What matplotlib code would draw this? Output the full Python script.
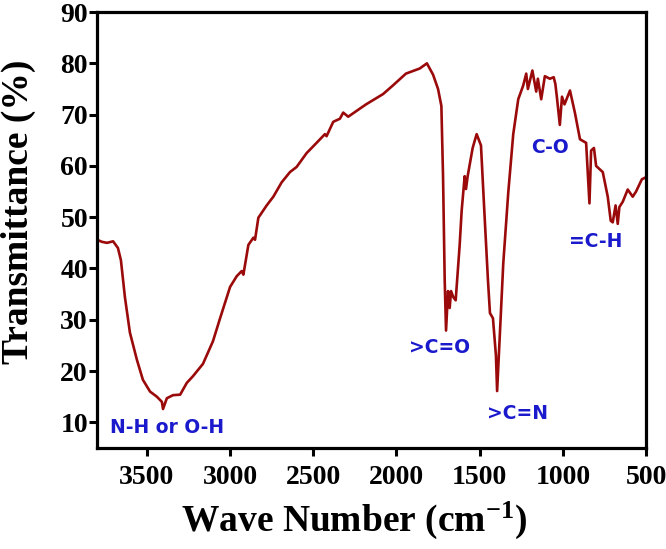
import numpy as np
import matplotlib
matplotlib.use("Agg")
import matplotlib.pyplot as plt

# FTIR spectrum (wave number cm^-1, transmittance %)
wavenumber = [3800, 3770, 3740, 3703, 3674, 3656, 3632, 3602, 3560, 3524, 3481,
              3440, 3410, 3403, 3380, 3343, 3300, 3260, 3223, 3163, 3103, 3060,
              3000, 2960, 2930, 2920, 2890, 2860, 2850, 2830, 2780, 2740, 2690,
              2640, 2600, 2540, 2480, 2430, 2420, 2380, 2340, 2320, 2290, 2183,
              2081, 2021, 1943, 1860, 1817, 1780, 1750, 1730, 1720, 1710, 1702,
              1690, 1680, 1672, 1658, 1644, 1620, 1608, 1590, 1582, 1572, 1542,
              1518, 1492, 1472, 1450, 1438, 1420, 1402, 1395, 1378, 1358, 1328,
              1298, 1268, 1238, 1220, 1210, 1183, 1160, 1150, 1130, 1108, 1078,
              1055, 1045, 1036, 1018, 1005, 990, 957, 927, 897, 860, 840, 830,
              813, 800, 760, 730, 712, 700, 683, 670, 660, 640, 610, 580, 560,
              525, 500]
transmittance = [45.6, 45.2, 45.0, 45.3, 44.0, 41.6, 34.4, 27.5, 22.2, 18.3, 16.0,
                 15.0, 14.0, 12.6, 14.7, 15.3, 15.4, 17.7, 19.0, 21.4, 25.8, 30.3,
                 36.4, 38.5, 39.5, 38.8, 44.6, 46.0, 45.6, 49.9, 52.3, 54.0, 56.8,
                 58.8, 59.8, 62.5, 64.5, 66.2, 65.8, 68.6, 69.2, 70.4, 69.6, 72.0,
                 74.0, 75.7, 78.0, 79.0, 80.0, 77.8, 75.0, 71.7, 58.0, 37.7, 27.9,
                 35.6, 32.3, 35.6, 34.4, 33.8, 44.6, 51.3, 58.0, 55.5, 58.0, 63.5,
                 66.2, 64.0, 51.3, 37.7, 31.3, 30.3, 23.0, 16.1, 27.5, 41.0, 54.8,
                 66.2, 73.0, 75.7, 78.0, 75.0, 78.6, 74.5, 77.0, 73.0, 77.5, 77.0,
                 77.3, 76.0, 73.5, 68.0, 73.5, 72.0, 74.7, 70.3, 65.2, 64.5, 52.7,
                 63.0, 63.5, 60.0, 58.8, 54.0, 49.3, 49.0, 52.3, 48.7, 52.0, 53.0,
                 55.4, 54.0, 55.0, 57.4, 57.8]

labels = ["N-H or O-H", ">C=O", ">C=N", "C-O", "=C-H"]
label_x = [3720, 1738, 1270, 1078, 800]
label_y = [9.0, 24.6, 11.8, 63.5, 45.3]
label_ha = ["left", "center", "center", "center", "center"]

plt.rcParams['font.family'] = 'Liberation Serif'
plt.rcParams['font.weight'] = 'bold'
plt.rcParams['mathtext.fontset'] = 'custom'
plt.rcParams['mathtext.rm'] = 'Liberation Serif:bold'
plt.rcParams['mathtext.it'] = 'Liberation Serif:bold'
plt.rcParams['mathtext.bf'] = 'Liberation Serif:bold'

fig = plt.figure(figsize=(6.66, 5.49), dpi=100)
ax = fig.add_axes([0.1456, 0.184, 0.8244, 0.794])

ax.plot(wavenumber, transmittance, color='#9a0a0a', lw=1.9)

for txt, x, y, ha in zip(labels, label_x, label_y, label_ha):
    ax.text(x, y, txt, color='#1a1acc', fontsize=13.5, fontweight='bold',
            family='DejaVu Sans', ha=ha, va='center')

ax.set_xlim(3800, 500)
ax.set_ylim(5, 90)
ax.set_xticks([3500, 3000, 2500, 2000, 1500, 1000, 500])
ax.set_yticks(np.arange(10, 91, 10))

for s in ax.spines.values():
    s.set_linewidth(2.3)
ax.tick_params(direction='out', length=5.5, width=2.2, labelsize=20)
ax.tick_params(axis='x', pad=7)
ax.tick_params(axis='y', pad=1)

ax.set_xlabel(r'Wave Number (cm$^{-1}$)', fontsize=27, fontweight='bold')
ax.set_ylabel('Transmittance (%)', fontsize=27, fontweight='bold')
ax.xaxis.set_label_coords(0.468, -0.118)
ax.yaxis.set_label_coords(-0.111, 0.541)

fig.savefig('out.png', dpi=100)
